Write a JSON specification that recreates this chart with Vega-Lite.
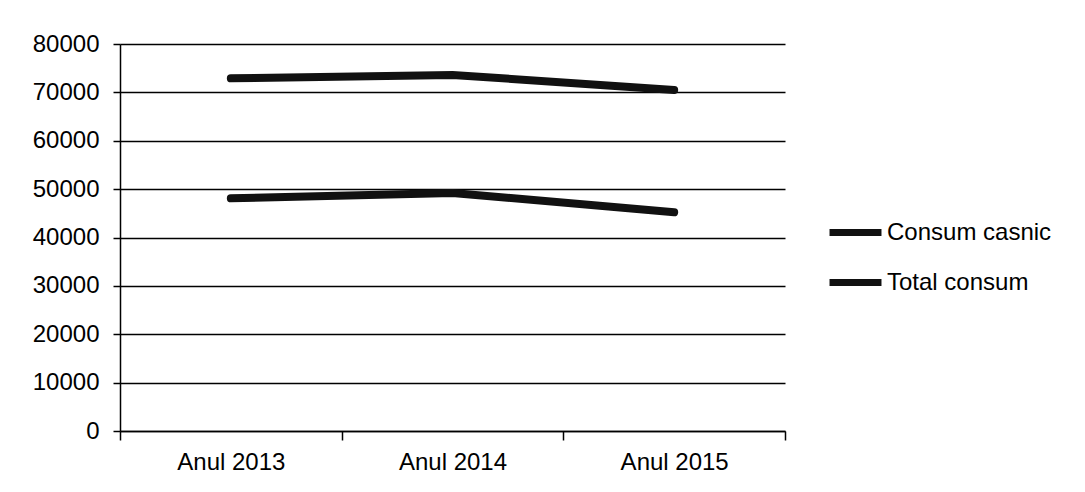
{
  "$schema": "https://vega.github.io/schema/vega-lite/v6.json",
  "width": 665,
  "height": 387,
  "autosize": {"type": "none"},
  "padding": {"left": 120, "top": 44, "right": 300, "bottom": 61},
  "background": "white",
  "data": {
    "values": [
      {"an": "Anul 2013", "serie": "Consum casnic", "valoare": 48100},
      {"an": "Anul 2014", "serie": "Consum casnic", "valoare": 49200},
      {"an": "Anul 2015", "serie": "Consum casnic", "valoare": 45200},
      {"an": "Anul 2013", "serie": "Total consum", "valoare": 72900},
      {"an": "Anul 2014", "serie": "Total consum", "valoare": 73600},
      {"an": "Anul 2015", "serie": "Total consum", "valoare": 70500}
    ]
  },
  "mark": {"type": "line", "strokeWidth": 8, "strokeCap": "round", "strokeJoin": "round"},
  "encoding": {
    "x": {
      "field": "an",
      "type": "nominal",
      "bandPosition": 0.5,
      "scale": {"type": "band", "paddingInner": 0, "paddingOuter": 0},
      "axis": {
        "title": null,
        "labelAngle": 0,
        "labelFont": "Liberation Sans",
        "labelFontSize": 24,
        "labelColor": "black",
        "labelPadding": 10,
        "tickBand": "extent",
        "tickSize": 9,
        "tickColor": "black",
        "tickWidth": 1.5,
        "domainColor": "black",
        "domainWidth": 1.5,
        "grid": false
      }
    },
    "y": {
      "field": "valoare",
      "type": "quantitative",
      "scale": {"domain": [0, 80000], "nice": false},
      "axis": {
        "title": null,
        "values": [0, 10000, 20000, 30000, 40000, 50000, 60000, 70000, 80000],
        "format": "d",
        "labelFont": "Liberation Sans",
        "labelFontSize": 24,
        "labelColor": "black",
        "labelPadding": 14,
        "tickSize": 7,
        "tickColor": "black",
        "tickWidth": 1.5,
        "domainColor": "black",
        "domainWidth": 1.5,
        "grid": true,
        "gridColor": "black",
        "gridWidth": 1.5,
        "gridOpacity": 1
      }
    },
    "color": {
      "field": "serie",
      "type": "nominal",
      "scale": {"range": ["#111111", "#111111"]},
      "legend": {
        "title": null,
        "orient": "none",
        "legendX": 706,
        "legendY": 159,
        "symbolType": "stroke",
        "symbolSize": 2700,
        "symbolStrokeWidth": 7,
        "labelFont": "Liberation Sans",
        "labelFontSize": 24,
        "labelColor": "black",
        "labelOffset": 2,
        "labelLimit": 400,
        "rowPadding": 6
      }
    }
  },
  "config": {"view": {"stroke": null}}
}
